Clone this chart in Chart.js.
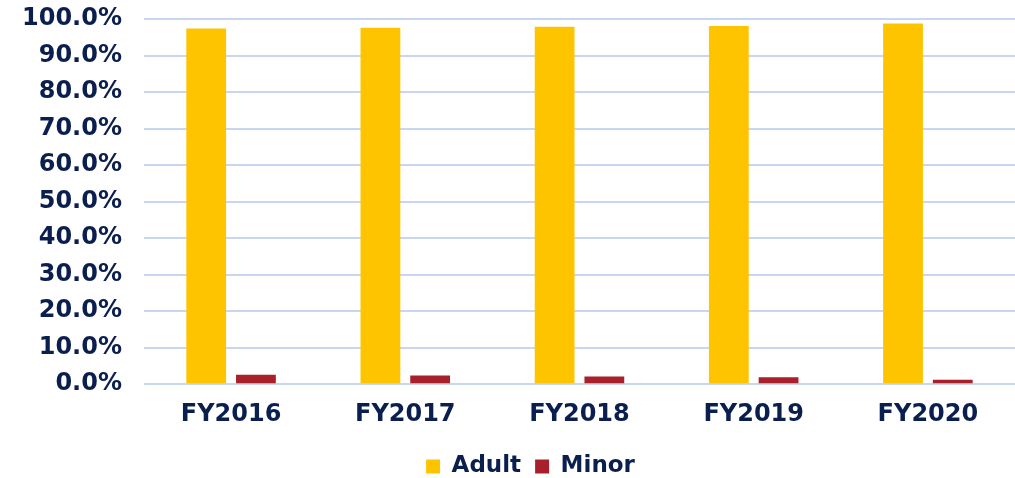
<!DOCTYPE html>
<html lang="en">
<head>
    <meta charset="UTF-8">
    <title>Adult vs Minor</title>
    <script src="https://cdn.jsdelivr.net/npm/chart.js"></script>
    <style>
        html, body { margin: 0; padding: 0; background: #fff; }
        .wrap { width: 1015px; height: 478px; }
    </style>
</head>
<body>
    <div class="wrap"><canvas id="chart"></canvas></div>
    <script>
        const years = ["FY2016", "FY2017", "FY2018", "FY2019", "FY2020"];
        const adult = [97.4, 97.6, 97.9, 98.1, 98.8];
        const minor = [2.6, 2.4, 2.1, 1.9, 1.2];

        const navy = "#0b1f4f";
        const font = "'DejaVu Sans', Verdana, sans-serif";

        // the legend in the original sits a bit right of the page centre
        const nudgeLegend = {
            id: "nudgeLegend",
            afterLayout(chart) {
                chart.legend.left += 23;
                chart.legend.right += 23;
            }
        };

        new Chart(document.getElementById("chart"), {
            type: "bar",
            data: {
                labels: years,
                datasets: [
                    { label: "Adult", data: adult, backgroundColor: "#ffc400" },
                    { label: "Minor", data: minor, backgroundColor: "#a8202a" }
                ]
            },
            plugins: [nudgeLegend],
            options: {
                responsive: true,
                maintainAspectRatio: false,
                animation: false,
                datasets: { bar: { categoryPercentage: 0.571, barPercentage: 0.8 } },
                layout: { padding: { left: 0, top: 0, right: 0, bottom: -10 } },
                plugins: {
                    tooltip: { enabled: false },
                    legend: {
                        position: "bottom",
                        labels: {
                            color: navy,
                            font: { family: font, size: 23, weight: "bold" },
                            boxWidth: 14,
                            boxHeight: 14,
                            padding: 14
                        }
                    }
                },
                scales: {
                    x: {
                        grid: { display: false },
                        border: { display: false },
                        ticks: {
                            color: navy,
                            padding: 8,
                            font: { family: font, size: 24, weight: "bold" }
                        },
                        afterFit: s => { s.height += 4; }
                    },
                    y: {
                        min: 0,
                        max: 100,
                        grid: { color: "#c9d6f2", lineWidth: 2, drawTicks: false },
                        border: { display: false },
                        ticks: {
                            stepSize: 10,
                            color: navy,
                            padding: 22,
                            font: { family: font, size: 24, weight: "bold" },
                            callback: v => v.toFixed(1) + "%"
                        },
                        afterFit: s => { s.paddingTop = 19; s.paddingBottom = 0; }
                    }
                }
            }
        });
    </script>
</body>
</html>
